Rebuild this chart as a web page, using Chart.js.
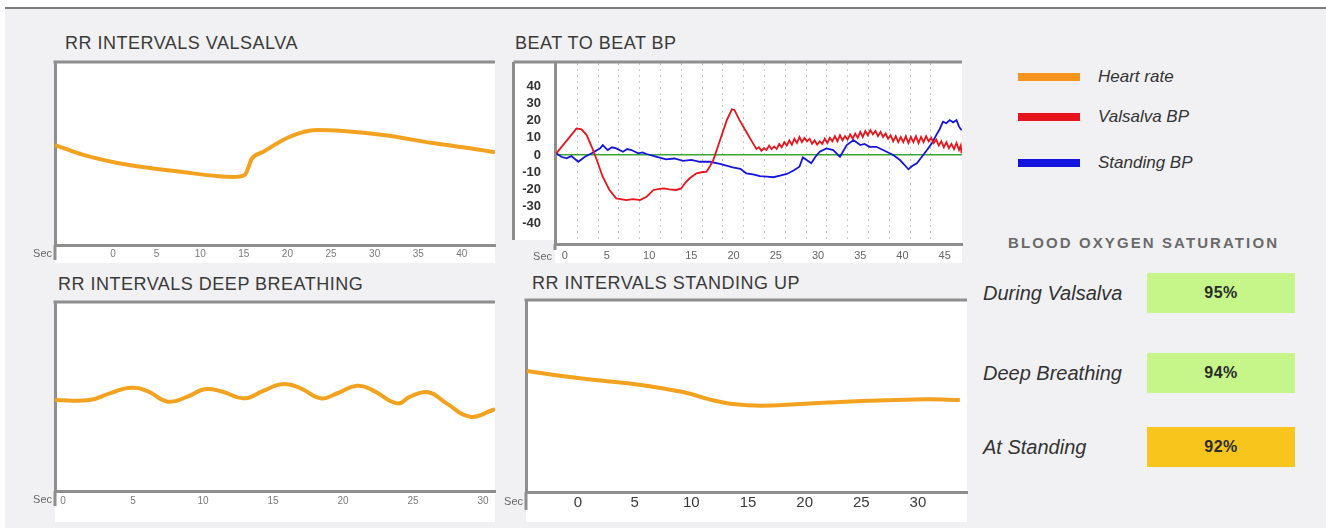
<!DOCTYPE html>
<html><head><meta charset="utf-8">
<script src="https://cdn.jsdelivr.net/npm/chart.js@4.4.1/dist/chart.umd.min.js"></script>
<style>
html,body{margin:0;padding:0;background:#fff;width:1326px;height:528px;overflow:hidden;font-family:"Liberation Sans",Arial,sans-serif;}
#panel{position:absolute;left:5px;top:7px;width:1321px;height:521px;background:#f1f1f3;border-top:2px solid #7c7c7c;}
.title{position:absolute;font-size:18px;letter-spacing:0.5px;color:#3a3a3a;white-space:nowrap;line-height:1;}
canvas{position:absolute;}
.lg{position:absolute;left:1018px;height:30px;display:flex;align-items:center;}
.lg .sw{width:62px;height:8px;}
.lg .tx{margin-left:18px;font-size:17px;font-style:italic;color:#333;white-space:nowrap;}
#spHead{position:absolute;left:1008px;top:235px;font-size:15px;font-weight:bold;letter-spacing:2.1px;color:#6a6a6a;white-space:nowrap;line-height:1;}
.sp{position:absolute;left:983px;height:40px;width:320px;}
.sp .lab{position:absolute;left:0;top:0;height:40px;line-height:40px;font-size:20px;font-style:italic;color:#333;white-space:nowrap;}
.sp .box{position:absolute;left:164px;top:0;width:148px;height:40px;line-height:40px;text-align:center;font-size:16px;font-weight:bold;letter-spacing:0.5px;color:#2b2b2b;}
</style></head>
<body>
<div id="panel"></div>
<div class="title" style="left:65px;top:34px">RR INTERVALS VALSALVA</div>
<div class="title" style="left:515px;top:34px">BEAT TO BEAT BP</div>
<div class="title" style="left:58px;top:275px">RR INTERVALS DEEP BREATHING</div>
<div class="title" style="left:532px;top:274px">RR INTERVALS STANDING UP</div>
<canvas id="c1" width="472" height="203" style="left:25px;top:60px"></canvas>
<canvas id="c2" width="460" height="203" style="left:505px;top:60px"></canvas>
<canvas id="c3" width="472" height="222" style="left:25px;top:300px"></canvas>
<canvas id="c4" width="473" height="224" style="left:495px;top:298px"></canvas>
<div id="legend"></div>
<div id="spHead">BLOOD OXYGEN SATURATION</div>
<div id="spo2"></div>
<script>
// ================= DATA =================
// RR intervals during Valsalva (x = seconds, y = relative RR interval)
const rrValsalvaSec = [-6.65, -3.4, 0.5, 4.2, 8.0, 11.9, 13.8, 15.1, 15.5, 15.9, 17.2, 19.5, 21.4, 23.4, 26.4, 31.0, 36.7, 43.6, 43.8];
const rrValsalvaVal = [54.9, 49.5, 45.1, 42.3, 40.1, 37.9, 37.4, 38.5, 42.3, 47.3, 51.1, 57.7, 61.5, 63.2, 62.6, 60.4, 56.0, 51.1, 50.9];
// RR intervals during deep breathing
const rrDeepSec = [-0.57, 1.9, 3.4, 4.8, 6.0, 7.5, 8.9, 10.1, 11.4, 12.9, 14.3, 15.6, 16.9, 18.4, 19.6, 21.0, 22.1, 23.9, 24.8, 26.1, 27.4, 29.1, 30.7, 30.86];
const rrDeepVal = [48.4, 48.4, 52.1, 54.9, 53.2, 47.5, 50.2, 54.1, 52.8, 49.3, 53.2, 56.8, 54.9, 49.3, 52.0, 56.0, 53.7, 46.6, 50.2, 52.5, 46.6, 39.5, 43.1, 43.5];
// RR intervals standing up
const rrStandSec = [-4.5, -1.4, 1.5, 4.4, 7.4, 9.7, 11.8, 13.9, 16.2, 19.2, 22.1, 25.0, 28.0, 30.9, 33.7];
const rrStandVal = [63.4, 60.7, 58.6, 56.9, 54.3, 51.7, 48.2, 45.9, 45.2, 45.9, 46.8, 47.6, 48.2, 48.5, 48.2];
// Beat to beat BP – Valsalva
const bpValsalvaSec = [-1.0, -0.2, 0.6, 1.4, 2.0, 2.6, 3.2, 3.8, 4.5, 5.3, 6.1, 7.3, 8.1, 8.9, 9.7, 10.5, 11.1, 11.7, 12.4, 13.2, 13.8, 14.3, 14.8, 15.6, 16.2, 16.8, 17.2, 17.6, 18.4, 19.2, 19.8, 20.1, 20.7, 21.5, 22.3, 22.7,
  23.0, 23.3, 23.6, 23.9, 24.2, 24.5, 24.8, 25.1, 25.4, 25.7, 26.0, 26.3, 26.6, 26.9, 27.2, 27.5, 27.8, 28.1, 28.4, 28.7, 29.0, 29.3, 29.6, 29.9, 30.2, 30.5, 30.8, 31.1, 31.4, 31.7, 32.0, 32.3, 32.6, 32.9, 33.2, 33.5, 33.8, 34.1, 34.4, 34.7, 35.0, 35.3, 35.6, 35.9, 36.2, 36.5, 36.8, 37.1, 37.4, 37.7, 38.0, 38.3, 38.6, 38.9, 39.2, 39.5, 39.8, 40.1, 40.4, 40.7, 41.0, 41.3, 41.6, 41.9, 42.2, 42.5, 42.8, 43.1, 43.4, 43.7, 44.0, 44.3, 44.6, 44.9, 45.2, 45.5, 45.8, 46.1, 46.4, 46.7, 46.9, 47.0];
const bpValsalvaVal = [1.0, 5.8, 10.6, 15.5, 14.9, 11.6, 4.8, -2.9, -12.6, -20.3, -25.2, -26.2, -25.6, -26.2, -24.2, -20.3, -19.8, -19.4, -20.0, -20.3, -19.4, -16.0, -13.5, -10.6, -10.0, -9.7, -6.5, -2.9, 8.7, 20.3, 26.6, 26.2, 20.3, 13.5, 6.8, 3.5,
  4.5, 2.5, 4.0, 3.0, 5.5, 3.5, 5.0, 3.5, 6.5, 4.5, 7.5, 5.5, 8.5, 6.0, 9.5, 7.0, 10.5, 7.5, 10.0, 8.0, 9.5, 6.5, 8.5, 6.0, 8.0, 6.5, 9.5, 7.0, 10.0, 8.0, 11.0, 8.0, 11.5, 8.5, 11.0, 9.0, 12.0, 9.5, 12.5, 10.0, 13.5, 10.5, 14.0, 11.5, 14.5, 12.0, 14.0, 11.0, 13.5, 10.5, 12.5, 9.5, 11.5, 8.0, 11.0, 7.5, 10.5, 7.5, 11.0, 7.0, 10.5, 7.5, 11.0, 7.0, 10.5, 7.5, 11.0, 8.0, 10.0, 7.0, 9.0, 5.5, 8.0, 4.5, 7.5, 4.0, 6.5, 3.5, 7.0, 3.0, 5.5, 1.0];
// Beat to beat BP – Standing
const bpStandingSec = [-1.0, -0.4, 0.2, 0.8, 1.6, 2.4, 3.2, 4.2, 4.5, 5.1, 5.6, 6.1, 6.9, 7.4, 7.9, 8.7, 9.2, 9.7, 10.9, 12.0, 13.0, 14.0, 15.0, 16.0, 17.2, 18.4, 19.9, 20.8, 21.5, 22.3, 23.1, 24.0, 24.7, 25.5, 26.3, 27.1, 27.8, 28.2, 28.7, 29.2, 29.7, 30.2, 31.0, 31.8, 32.6, 33.4, 34.2, 35.0, 35.5, 36.1, 36.9, 37.7, 38.3, 38.9, 39.7, 40.2, 40.7, 41.1, 41.7, 42.3, 42.9, 43.5, 44.0, 44.4, 44.8, 45.2, 45.6, 46.0, 46.4, 46.7, 47.0];
const bpStandingVal = [1.0, -1.0, -1.9, -0.6, -3.9, -1.0, 1.0, 3.9, 5.8, 2.9, 4.5, 3.9, 1.9, 3.5, 2.9, 1.0, 1.5, 0.6, -1.0, -2.5, -2.0, -3.4, -2.8, -3.9, -3.9, -5.2, -7.1, -8.0, -10.6, -11.2, -12.2, -12.5, -12.9, -12.0, -11.0, -9.0, -6.8, -1.4, -3.0, -4.8, -1.0, 1.9, 3.9, 2.9, -1.0, 5.8, 8.7, 5.8, 6.5, 4.8, 4.8, 2.9, 1.5, 0.0, -2.9, -5.5, -8.3, -6.5, -4.8, -1.0, 2.9, 7.0, 11.6, 15.0, 19.4, 18.5, 20.3, 19.0, 20.3, 16.5, 14.5];
// Tick labels
const rrValsalvaTicks = [0, 5, 10, 15, 20, 25, 30, 35, 40];
const rrDeepTicks = [0, 5, 10, 15, 20, 25, 30];
const rrStandTicks = [0, 5, 10, 15, 20, 25, 30];
const bpTicksX = [0, 5, 10, 15, 20, 25, 30, 35, 40, 45];
const bpTicksY = [40, 30, 20, 10, 0, -10, -20, -30, -40];
// Legend and oxygen saturation
const seriesNames = ['Heart rate', 'Valsalva BP', 'Standing BP'];
const spo2Labels = ['During Valsalva', 'Deep Breathing', 'At Standing'];
const spo2Values = [95, 94, 92];

// ================= STYLE =================
const seriesColors = ['#f7941d', '#e8141b', '#1414e0'];
const rrLineColor = '#f3a21f';
const frameColor = '#8e8e8e';
const legendRowTops = [62, 102, 148];
const spo2RowTops = [273, 353, 427];
const spo2Color = v => v >= 94 ? '#c6f68a' : '#f7c51c';
const FONT = '"Liberation Sans", Arial, sans-serif';

const pts = (xs, ys) => xs.map((x, i) => ({x, y: ys[i]}));

const framePlugin = {
  id: 'frame',
  beforeDraw(chart, args, o) {
    const {ctx, chartArea: a, scales} = chart;
    ctx.save();
    ctx.fillStyle = '#fff';
    ctx.fillRect(a.left, a.top, a.right - a.left, chart.height - a.top - (o.stripGap || 0));
    if (o.yPanel) ctx.fillRect(scales.y.left, a.top, a.left - scales.y.left, a.bottom - a.top - 4);
    ctx.restore();
  },
  afterDraw(chart, args, o) {
    const {ctx, chartArea: a, scales} = chart;
    ctx.save();
    ctx.strokeStyle = frameColor; ctx.lineWidth = 3;
    ctx.beginPath();
    const left = o.yPanel ? scales.y.left + 1.5 : a.left - 1.5;
    ctx.moveTo(left, a.top - 1); ctx.lineTo(a.right, a.top - 1);
    ctx.moveTo(a.left, a.bottom); ctx.lineTo(a.left, chart.height - o.tailGap);
    if (o.yPanel) { ctx.moveTo(left, a.top - 1); ctx.lineTo(left, a.bottom - 4); }
    ctx.stroke();
    ctx.fillStyle = '#666'; ctx.font = '11px ' + FONT;
    ctx.textAlign = 'right'; ctx.textBaseline = 'middle';
    ctx.fillText('Sec', a.left - 3, a.bottom + o.secDy);
    ctx.restore();
  }
};

function rrChart(id, sec, val, ticks, xmin, xmax, cfg) {
  return new Chart(document.getElementById(id), {
    type: 'line',
    data: { datasets: [{ label: seriesNames[0], data: pts(sec, val), borderColor: rrLineColor, borderWidth: 4, pointRadius: 0,
      cubicInterpolationMode: cfg.mono ? 'monotone' : 'default', tension: 0.45, fill: false }] },
    options: {
      responsive: false, animation: false, devicePixelRatio: 1,
      layout: { padding: cfg.pad },
      plugins: { legend: { display: false }, tooltip: { enabled: false }, frame: cfg.frame },
      scales: {
        x: { type: 'linear', min: xmin, max: xmax, position: 'bottom',
             afterBuildTicks: s => { s.ticks = ticks.map(v => ({value: v})); },
             afterFit: s => { s.height = cfg.xh; s.paddingLeft = 0; s.paddingRight = 0; },
             grid: { display: false, drawTicks: false },
             border: { display: true, color: frameColor, width: 3 },
             ticks: { font: { size: cfg.tf, family: FONT }, color: cfg.tc, padding: cfg.tp, maxRotation: 0, autoSkip: false } },
        y: { min: 0, max: 100, afterFit: s => { s.width = 0; s.paddingTop = 0; s.paddingBottom = 0; },
             grid: { display: false, drawTicks: false },
             border: { display: true, color: frameColor, width: 3 },
             ticks: { display: false } }
      }
    },
    plugins: [framePlugin]
  });
}

rrChart('c1', rrValsalvaSec, rrValsalvaVal, rrValsalvaTicks, -6.65, 43.8,
  { mono: true, pad: {left: 30, top: 3, right: 2, bottom: 0}, xh: 18, tf: 10, tc: '#7a7a7a', tp: 3, frame: { tailGap: 3, secDy: 9 } });
rrChart('c3', rrDeepSec, rrDeepVal, rrDeepTicks, -0.57, 30.86,
  { mono: false, pad: {left: 30, top: 3, right: 2, bottom: 0}, xh: 31, tf: 10, tc: '#7a7a7a', tp: 4, frame: { tailGap: 16, secDy: 9 } });
rrChart('c4', rrStandSec, rrStandVal, rrStandTicks, -4.59, 34.33,
  { mono: true, pad: {left: 31, top: 3, right: 1, bottom: 0}, xh: 30, tf: 15, tc: '#3a3a3a', tp: 2, frame: { tailGap: 12, secDy: 10 } });

new Chart(document.getElementById('c2'), {
  type: 'line',
  data: { datasets: [
    { label: seriesNames[1], data: pts(bpValsalvaSec, bpValsalvaVal), borderColor: seriesColors[1], borderWidth: 1.8, pointRadius: 0, tension: 0, fill: false },
    { label: seriesNames[2], data: pts(bpStandingSec, bpStandingVal), borderColor: seriesColors[2], borderWidth: 1.8, pointRadius: 0, tension: 0, fill: false }
  ] },
  options: {
    responsive: false, animation: false, devicePixelRatio: 1,
    layout: { padding: {left: 7, top: 3, right: 3, bottom: 0} },
    plugins: { legend: { display: false }, tooltip: { enabled: false }, frame: { yPanel: true, tailGap: 13, secDy: 13 } },
    scales: {
      x: { type: 'linear', min: -1.15, max: 47.05, position: 'bottom',
           afterBuildTicks: s => { s.ticks = bpTicksX.map(v => ({value: v})); },
           afterFit: s => { s.height = 19; s.paddingLeft = 0; s.paddingRight = 0; },
           grid: { display: false, drawTicks: false },
           border: { display: true, color: frameColor, width: 3 },
           ticks: { font: { size: 11, family: FONT }, color: '#666', padding: 5, maxRotation: 0, autoSkip: false } },
      xg: { type: 'linear', min: -1.07, max: 18.5, position: 'top',
            afterBuildTicks: s => { s.ticks = s.ticks.filter(t => Number.isInteger(t.value)); },
            afterFit: s => { s.height = 0; s.paddingLeft = 0; s.paddingRight = 0; },
            grid: { display: true, drawTicks: false, color: '#c4c4c4', lineWidth: 1 },
            border: { display: false, dash: [2, 4] },
            ticks: { display: false, stepSize: 1 } },
      y: { min: -51.7, max: 53.5,
           afterBuildTicks: s => { s.ticks = bpTicksY.map(v => ({value: v})); },
           afterFit: s => { s.width = 43; s.paddingTop = 0; s.paddingBottom = 0; },
           grid: { display: true, drawTicks: false, lineWidth: 1.5, color: c => (c.tick && c.tick.value === 0) ? '#3aa63a' : 'rgba(0,0,0,0)' },
           border: { display: true, color: frameColor, width: 3 },
           ticks: { font: { size: 13, weight: 'bold', family: FONT }, color: '#333', padding: 14, autoSkip: false } }
    }
  },
  plugins: [framePlugin]
});

// Legend
const lg = document.getElementById('legend');
seriesNames.forEach((n, i) => {
  const r = document.createElement('div');
  r.className = 'lg'; r.style.top = legendRowTops[i] + 'px';
  r.innerHTML = '<div class="sw" style="background:' + seriesColors[i] + '"></div><div class="tx">' + n + '</div>';
  lg.appendChild(r);
});
// Oxygen saturation
const sp = document.getElementById('spo2');
spo2Labels.forEach((n, i) => {
  const r = document.createElement('div');
  r.className = 'sp'; r.style.top = spo2RowTops[i] + 'px';
  r.innerHTML = '<div class="lab">' + n + '</div><div class="box" style="background:' + spo2Color(spo2Values[i]) + '">' + spo2Values[i] + '%</div>';
  sp.appendChild(r);
});
</script>
</body></html>
